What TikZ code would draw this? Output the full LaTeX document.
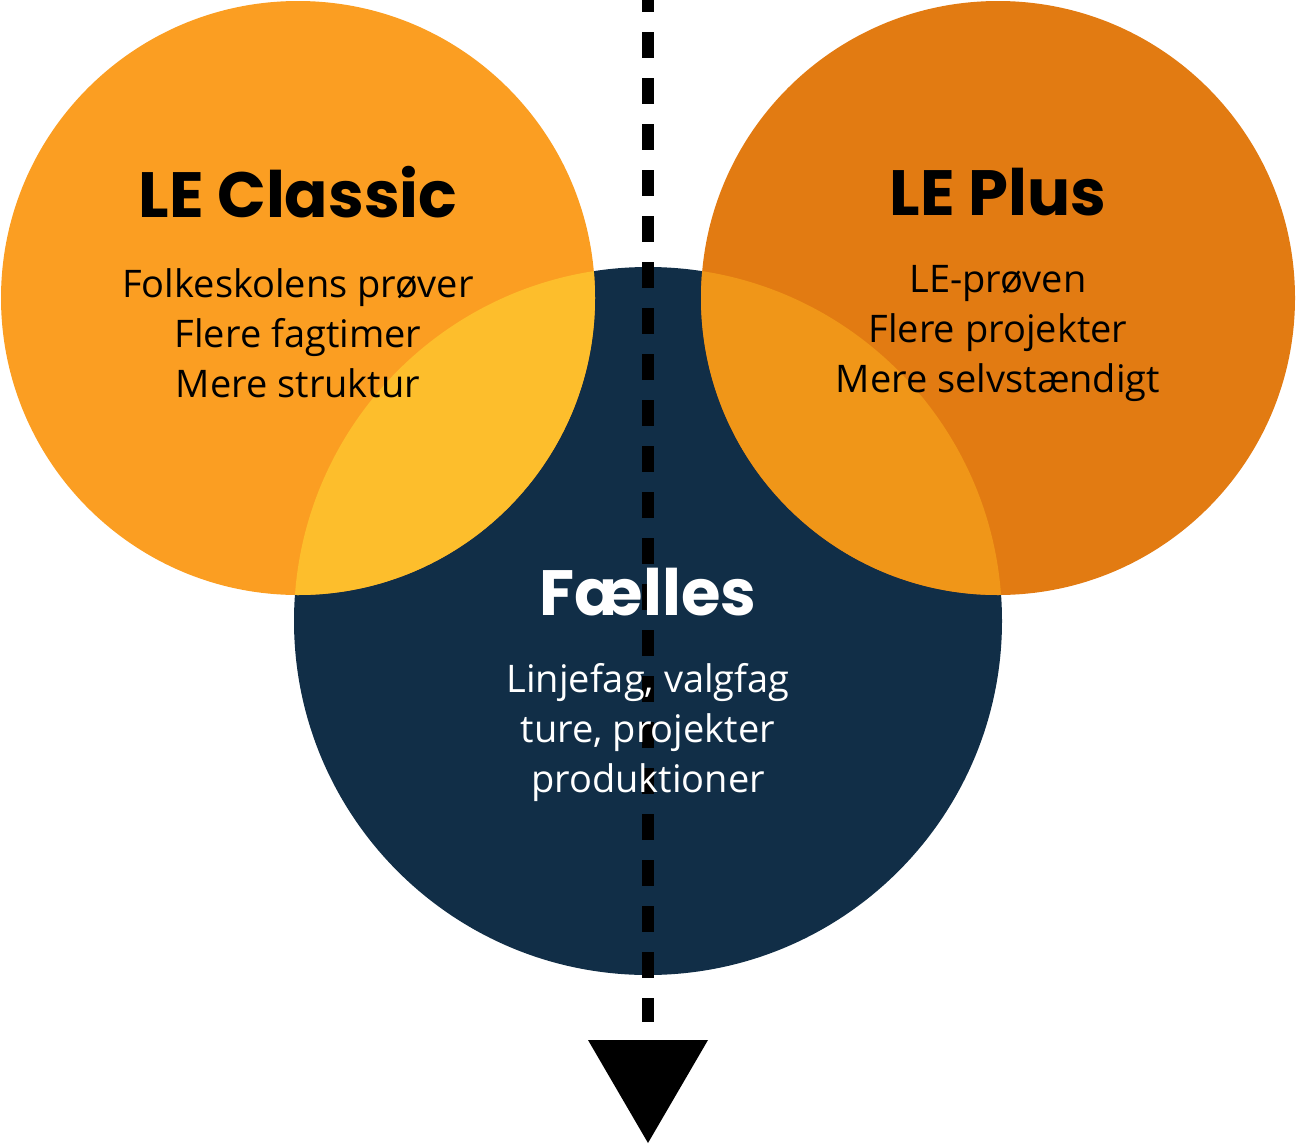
\documentclass[tikz,border=0pt]{standalone}
\usepackage{fontspec}
\setmainfont{Open Sans}
\newfontfamily\titlefont[Scale=1]{Poppins Bold}
\definecolor{cl}{HTML}{FB9E22}
\definecolor{cr}{HTML}{E27B12}
\definecolor{cb}{HTML}{112E47}
\definecolor{oyl}{HTML}{FDBE2C}
\definecolor{oyr}{HTML}{F09618}
\begin{document}
\begin{tikzpicture}[x=1pt,y=-1pt,
  title/.style={font=\titlefont\fontsize{64}{70}\selectfont,text=black},
  body/.style={font=\fontsize{38}{50}\selectfont,align=center}]
\useasboundingbox (0,0) rectangle (1296,1146);
\fill[cb] (648,621) circle (354);
\fill[cl] (298,298) circle (297);
\fill[cr] (998,298) circle (297);
\begin{scope}
\clip (648,621) circle (354);
\fill[oyl] (298,298) circle (297);
\fill[oyr] (998,298) circle (297);
\end{scope}
\coordinate (top) at (648,0);
\coordinate (bot) at (648,1022);
\draw[line width=12pt,dash pattern=on 26pt off 20pt,dash phase=14pt] (top) -- (bot);
\node[fill=black,draw=none,inner sep=0pt] (tri) at (648,1040) {};
\fill[black] (588,1040) -- (708,1040) -- (648,1143) -- cycle;
\node[title] (t1) at (298,192) {LE Classic};
\node[title] (t2) at (998,192) {LE Plus};
\node[title,text=white] (t3) at (648,592) {Fælles};
\node[body] (b1) at (298,333) {Folkeskolens prøver\\Flere fagtimer\\Mere struktur};
\node[body] (b2) at (998,333) {LE-prøven\\Flere projekter\\Mere selvstændigt};
\node[body,text=white] (b3) at (648,733) {Linjefag, valgfag\\ture, projekter\\produktioner};
\end{tikzpicture}
\end{document}
